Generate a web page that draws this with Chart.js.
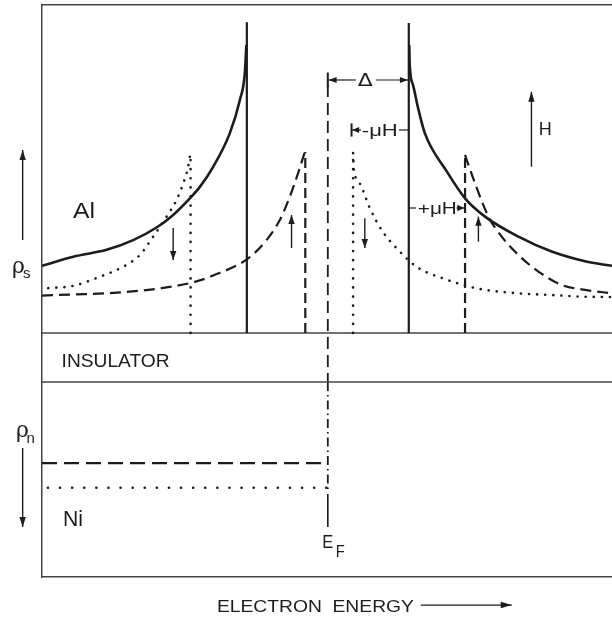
<!DOCTYPE html>
<html>
<head>
<meta charset="utf-8">
<script src="https://cdn.jsdelivr.net/npm/chart.js@4.4.1/dist/chart.umd.min.js"></script>
<style>
  html, body { margin: 0; background: #fff; }
  canvas { display: block; }
</style>
</head>
<body>
<canvas id="dos" width="612" height="621"></canvas>
<script>
// energy in units of the Al gap, measured from E_F; heights are arbitrary units (0 = bottom, 10 = top)
const solidLeftE  = [-3.53, -3.144, -2.732, -2.404, -2.115, -1.910, -1.704, -1.580, -1.416, -1.210, -1.086, -1.025, -1.006];
const solidLeftD  = [5.44, 5.60, 5.72, 5.89, 6.11, 6.33, 6.62, 6.82, 7.17, 7.76, 8.34, 8.81, 9.30];
const solidRightE = [1.006, 1.012, 1.053, 1.115, 1.198, 1.465, 1.695, 1.942, 2.354, 2.765, 3.177, 3.51];
const solidRightD = [9.30, 8.95, 8.60, 8.20, 7.76, 7.10, 6.62, 6.30, 5.95, 5.69, 5.52, 5.44];

// spin up (dashed)
const upLeftE  = [-3.53, -3.144, -2.732, -2.321, -1.910, -1.642, -1.416, -0.984, -0.757, -0.593, -0.469, -0.367, -0.284];
const upLeftD  = [4.92, 4.94, 4.96, 5.005, 5.08, 5.16, 5.27, 5.57, 5.89, 6.24, 6.65, 7.06, 7.43];
const upRightE = [1.695, 1.716, 1.819, 1.984, 2.148, 2.354, 2.601, 2.889, 3.177, 3.51];
const upRightD = [7.38, 7.29, 6.88, 6.30, 5.95, 5.63, 5.34, 5.105, 5.02, 4.96];

// spin down (dotted)
const downLeftE  = [-3.453, -3.144, -2.815, -2.527, -2.321, -2.157, -1.991, -1.868, -1.786, -1.725, -1.697];
const downLeftD  = [5.05, 5.09, 5.25, 5.425, 5.63, 5.95, 6.30, 6.59, 6.88, 7.17, 7.41];
const downRightE = [0.312, 0.321, 0.395, 0.519, 0.663, 0.868, 1.095, 1.423, 1.753, 1.942, 2.354, 2.765, 3.177, 3.51];
const downRightD = [7.41, 7.145, 6.88, 6.45, 6.07, 5.72, 5.425, 5.22, 5.075, 5.02, 4.96, 4.93, 4.90, 4.895];

// gap edges and peak heights
const solidEdges = [-1.0, 1.0],     solidTops = [9.70, 9.685];
const upEdges    = [-0.278, 1.695], upTops    = [7.43, 7.38];
const downEdges  = [-1.695, 0.312], downTops  = [7.41, 7.41];

// panel boundaries
const alBottom = 4.266, niTop = 3.409;
const eMin = -3.53, eMax = 3.51;

// Ni normal-metal levels
const niUp = 1.99, niDown = 1.56;
const niUpStart = -3.53, niDownStart = -3.457;

// Fermi level marker
const fermiE = 0;
const fermiDashed = [8.60, 3.409], fermiDashDot = [3.409, 1.52], fermiSolid = [1.45, 0.874];

const ink = '#1c1c1c';

function pts(xs, ys) { return xs.map((x, i) => ({ x: x, y: ys[i] })); }
function curve(xs, ys, style) {
  return Object.assign({ data: pts(xs, ys), borderColor: ink, pointRadius: 0, fill: false,
    cubicInterpolationMode: 'monotone' }, style);
}
function seg(x1, y1, x2, y2, style) {
  return Object.assign({ data: [{ x: x1, y: y1 }, { x: x2, y: y2 }], borderColor: ink,
    pointRadius: 0, fill: false, tension: 0 }, style);
}

const solidStyle  = { borderWidth: 2.6 };
const dashedStyle = { borderWidth: 2.2, borderDash: [11, 6] };
const dottedStyle = { borderWidth: 2.6, borderDash: [0.1, 8], borderCapStyle: 'round' };

const datasets = [
  curve(solidLeftE, solidLeftD, solidStyle),
  curve(solidRightE, solidRightD, solidStyle),
  curve(upLeftE, upLeftD, dashedStyle),
  curve(upRightE, upRightD, dashedStyle),
  curve(downLeftE, downLeftD, dottedStyle),
  curve(downRightE, downRightD, dottedStyle),
  ...solidEdges.map((e, i) => seg(e, alBottom, e, solidTops[i], { borderWidth: 2.2 })),
  ...upEdges.map((e, i) => seg(e, alBottom, e, upTops[i], { borderWidth: 2.2, borderDash: [10, 5] })),
  ...downEdges.map((e, i) => seg(e, alBottom, e, downTops[i], { borderWidth: 2.6, borderDash: [0.1, 9], borderCapStyle: 'round' })),
  seg(eMin, alBottom, eMax, alBottom, { borderWidth: 1.5, borderColor: '#444' }),
  seg(eMin, niTop, eMax, niTop, { borderWidth: 1.5, borderColor: '#444' }),
  seg(niUpStart, niUp, fermiE, niUp, { borderWidth: 2.2, borderDash: [15, 7] }),
  seg(niDownStart, niDown, fermiE, niDown, { borderWidth: 2.6, borderDash: [0.1, 12], borderCapStyle: 'round' }),
  seg(fermiE, fermiDashed[0], fermiE, fermiDashed[1], { borderWidth: 1.8, borderDash: [12, 6] }),
  seg(fermiE, fermiDashDot[0], fermiE, fermiDashDot[1], { borderWidth: 1.8, borderDash: [9, 4, 1.5, 4] }),
  seg(fermiE, fermiSolid[0], fermiE, fermiSolid[1], { borderWidth: 1.6 })
];

function head(ctx, x1, y1, x2, y2, len, w) {
  const a = Math.atan2(y2 - y1, x2 - x1), c = Math.cos(a), s = Math.sin(a);
  ctx.beginPath();
  ctx.moveTo(x2, y2);
  ctx.lineTo(x2 - len * c + w * s, y2 - len * s - w * c);
  ctx.lineTo(x2 - len * c - w * s, y2 - len * s + w * c);
  ctx.closePath();
  ctx.fill();
}
function arrow(ctx, x1, y1, x2, y2, lw, len, w) {
  ctx.lineWidth = lw;
  ctx.beginPath(); ctx.moveTo(x1, y1); ctx.lineTo(x2, y2); ctx.stroke();
  head(ctx, x1, y1, x2, y2, len, w);
}
function line(ctx, x1, y1, x2, y2, lw) {
  ctx.lineWidth = lw;
  ctx.beginPath(); ctx.moveTo(x1, y1); ctx.lineTo(x2, y2); ctx.stroke();
}
function label(ctx, s, x, y, size, width, align, font) {
  ctx.save();
  ctx.font = size + 'px ' + (font || '"Liberation Sans", Arial, sans-serif');
  const m = ctx.measureText(s).width;
  const sx = width ? width / m : 1;
  const w = m * sx;
  const left = align === 'center' ? x - w / 2 : x;
  ctx.translate(left, y);
  ctx.scale(sx, 1);
  ctx.textAlign = 'left';
  ctx.textBaseline = 'alphabetic';
  ctx.fillText(s, 0, 0);
  ctx.restore();
}

const notes = {
  id: 'notes',
  afterDatasetsDraw(chart) {
    const ctx = chart.ctx;
    const X = v => chart.scales.x.getPixelForValue(v);
    const Y = v => chart.scales.y.getPixelForValue(v);
    ctx.save();
    ctx.fillStyle = ink;
    ctx.strokeStyle = ink;

    label(ctx, 'Al', X(-3.148), Y(6.28), 22, 22);
    label(ctx, 'INSULATOR', X(-3.288), Y(3.67), 17.5, 108);
    label(ctx, 'Ni', X(-3.272), Y(0.89), 22, 20);

    // rho_s, rho_n on the left margin
    label(ctx, 'ρ', X(-3.90), Y(5.315), 22, 0, 'left', '"DejaVu Serif", serif');
    label(ctx, 's', X(-3.765), Y(5.227), 15, 0);
    arrow(ctx, X(-3.769), Y(5.892), X(-3.769), Y(7.465), 1.4, 10, 3.2);
    label(ctx, 'ρ', X(-3.85), Y(2.448), 22, 0, 'left', '"DejaVu Serif", serif');
    label(ctx, 'n', X(-3.72), Y(2.343), 15, 0);
    arrow(ctx, X(-3.769), Y(2.255), X(-3.769), Y(0.874), 1.4, 10, 3.2);

    // E_F
    label(ctx, 'E', X(-0.07), Y(0.507), 19, 11);
    label(ctx, 'F', X(0.099), Y(0.350), 16, 9);

    // gap bracket
    const yd = Y(8.689);
    line(ctx, X(0), Y(8.82), X(0), Y(8.56), 2);
    arrow(ctx, X(0.346), yd, X(0.01), yd, 1.2, 8, 3);
    arrow(ctx, X(0.593), yd, X(0.99), yd, 1.2, 8, 3);
    label(ctx, 'Δ', X(0.463), yd + 6, 17, 15, 'center', '"DejaVu Sans", sans-serif');

    // -muH bracket
    const ym = Y(7.815);
    line(ctx, X(0.293), Y(7.93), X(0.293), Y(7.70), 2);
    arrow(ctx, X(0.41), ym, X(0.30), ym, 1.2, 7, 3);
    label(ctx, '-μH', X(0.642), ym + 6, 17, 36, 'center');
    line(ctx, X(0.88), ym, X(0.994), ym, 1.2);

    // +muH bracket
    const yp = Y(6.451);
    line(ctx, X(1.012), yp, X(1.09), yp, 1.2);
    label(ctx, '+μH', X(1.352), yp + 6, 17, 39, 'center');
    arrow(ctx, X(1.59), yp, X(1.685), yp, 1.2, 7, 3.2);

    // field arrow
    arrow(ctx, X(2.515), Y(7.173), X(2.515), Y(8.484), 1.4, 10, 3.2);
    label(ctx, 'H', X(2.605), Y(7.73), 19, 13);

    // spin arrows
    arrow(ctx, X(-1.910), Y(6.101), X(-1.910), Y(5.542), 1.4, 9, 3.2);
    arrow(ctx, X(-0.448), Y(5.752), X(-0.448), Y(6.329), 1.4, 9, 3.2);
    arrow(ctx, X(0.457), Y(6.273), X(0.457), Y(5.752), 1.4, 9, 3.2);
    arrow(ctx, X(1.860), Y(5.862), X(1.860), Y(6.299), 1.4, 9, 3.2);

    // axis caption
    const yc = Y(-0.49);
    label(ctx, 'ELECTRON  ENERGY', X(-1.37), yc + 6.5, 17, 197);
    arrow(ctx, X(1.148), yc, X(2.272), yc, 1.3, 11, 3.2);
    ctx.restore();
  }
};

const frame = { display: true, color: '#444', width: 1.5 };
const hidden = { display: false, drawTicks: false };

new Chart(document.getElementById('dos'), {
  type: 'line',
  data: { datasets: datasets },
  options: {
    responsive: false,
    animation: false,
    layout: { padding: { left: 42, top: 5, right: 0, bottom: 44 } },
    plugins: { legend: { display: false }, tooltip: { enabled: false } },
    scales: {
      x: { type: 'linear', min: eMin, max: eMax, ticks: { display: false }, grid: hidden, border: frame },
      xTop: { type: 'linear', position: 'top', min: eMin, max: eMax, ticks: { display: false }, grid: hidden, border: frame },
      y: { min: 0, max: 10, ticks: { display: false }, grid: hidden, border: frame }
    }
  },
  plugins: [notes]
});
</script>
</body>
</html>
